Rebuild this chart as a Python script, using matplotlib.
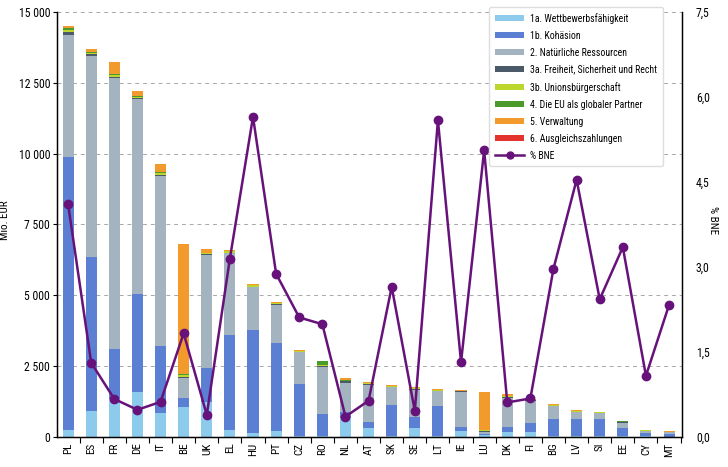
import matplotlib
matplotlib.use("Agg")
import matplotlib.pyplot as plt
from matplotlib.patches import Patch
from matplotlib.lines import Line2D
from matplotlib import font_manager
import numpy as np

avail = {f.name for f in font_manager.fontManager.ttflist}
fams = [f for f in ['Roboto Condensed', 'Liberation Sans Narrow', 'Roboto', 'DejaVu Sans'] if f in avail]
plt.rcParams['font.family'] = fams

countries = ["PL", "ES", "FR", "DE", "IT", "BE", "UK", "EL", "HU", "PT", "CZ", "RO", "NL",
             "AT", "SK", "SE", "LT", "IE", "LU", "DK", "FI", "BG", "LV", "SI", "EE", "CY", "MT"]

# Mio. EUR per heading
h1a = [250, 930, 1340, 1590, 860, 1070, 1240, 250, 150, 210, 50, 50, 670,
       320, 30, 330, 30, 210, 60, 190, 190, 40, 30, 50, 30, 20, 10]
h1b = [9630, 5430, 1760, 3460, 2350, 310, 1200, 3350, 3630, 3120, 1820, 760, 230,
       220, 1100, 390, 1070, 150, 60, 170, 300, 600, 590, 570, 300, 130, 100]
h2 = [4320, 7100, 9560, 6880, 6000, 710, 3980, 2890, 1510, 1330, 1130, 1670, 1000,
      1290, 630, 940, 520, 1230, 40, 1030, 790, 450, 270, 220, 180, 70, 60]
h3a = [100, 60, 50, 50, 50, 40, 30, 20, 20, 30, 10, 30, 60,
       30, 10, 40, 10, 20, 60, 20, 10, 10, 10, 10, 10, 5, 5]
h3b = [80, 40, 60, 30, 50, 50, 40, 40, 40, 30, 20, 40, 30,
       30, 30, 30, 30, 20, 10, 20, 10, 20, 20, 20, 20, 10, 10]
h4 = [40, 20, 30, 20, 30, 30, 20, 20, 10, 10, 10, 120, 10,
      10, 10, 10, 10, 10, 10, 10, 10, 10, 10, 10, 10, 5, 5]
h5 = [80, 100, 420, 170, 300, 4600, 110, 20, 30, 40, 20, 30, 80,
      30, 10, 40, 20, 30, 1340, 90, 20, 20, 20, 20, 10, 20, 20]
h6 = [0] * 27

# % BNE
bne = [4.11, 1.31, 0.67, 0.48, 0.62, 1.83, 0.39, 3.15, 5.65, 2.88, 2.11, 1.99, 0.36,
       0.64, 2.65, 0.46, 5.59, 1.32, 5.06, 0.61, 0.68, 2.97, 4.54, 2.43, 3.35, 1.08, 2.33]

labels = ["1a. Wettbewerbsfähigkeit", "1b. Kohäsion", "2. Natürliche Ressourcen",
          "3a. Freiheit, Sicherheit und Recht", "3b. Unionsbürgerschaft",
          "4. Die EU als globaler Partner", "5. Verwaltung", "6. Ausgleichszahlungen"]
colors = ["#8ccbec", "#5b7fd3", "#a3b3bf", "#4b5a69", "#bcd62c", "#4a9a2c", "#f39a2c", "#e2342a"]
series = [h1a, h1b, h2, h3a, h3b, h4, h5, h6]

yticks = [0, 2500, 5000, 7500, 10000, 12500, 15000]
ytick_labels = ["0", "2 500", "5 000", "7 500", "10 000", "12 500", "15 000"]
y2ticks = [0, 1.5, 3.0, 4.5, 6.0, 7.5]
y2tick_labels = ["0,0", "1,5", "3,0", "4,5", "6,0", "7,5"]

fig = plt.figure(figsize=(7.28, 4.67), dpi=100)
ax = fig.add_axes([57/728, 30/467, (682-57)/728, (437-12)/467])
x = np.arange(len(countries))

for t in yticks[1:]:
    ax.axhline(t, color="#a8a8a8", lw=0.7, ls=(0, (4, 4)), zorder=0)

bottom = np.zeros(len(countries))
for vals, c in zip(series, colors):
    v = np.array(vals, dtype=float)
    ax.bar(x, v, width=0.48, bottom=bottom, color=c, edgecolor="none", zorder=2)
    bottom += v

ax.set_xlim(-0.48, 26.56)
ax.set_ylim(0, 15000)
ax.set_yticks(yticks)
ax.set_yticklabels(ytick_labels, fontsize=8.5)
ax.set_xticks(x)
ax.set_xticklabels(countries, rotation=90, fontsize=8)
ax.tick_params(axis='x', length=0, pad=4)
ax.set_xticks(np.arange(-0.5, 26.6, 1.0)[1:], minor=True)
ax.tick_params(axis='x', which='minor', length=4, direction='out', width=0.8)
ax.tick_params(axis='y', length=3, width=0.8, pad=2)
ax.spines["top"].set_visible(False)
ax.spines["left"].set_linewidth(1.0)
ax.spines["bottom"].set_linewidth(1.0)
ax.set_ylabel("Mio. EUR", fontsize=8)
ax.yaxis.set_label_coords(-0.075, 0.51)

ax2 = ax.twinx()
ax2.plot(x, bne, color="#66127a", lw=1.8, marker="o", ms=6, zorder=5)
ax2.set_ylim(0, 7.5)
ax2.set_yticks(y2ticks)
ax2.set_yticklabels(y2tick_labels, fontsize=8.5)
ax2.tick_params(axis='y', length=0, width=0.8, pad=10)
ax2.spines["top"].set_visible(False)
ax2.spines["right"].set_linewidth(1.0)
ax2.set_ylabel("% BNE", fontsize=8, rotation=270, labelpad=12)
ax2.yaxis.set_label_coords(1.058, 0.51)

handles = [Patch(facecolor=c, edgecolor="none") for c in colors]
handles.append(Line2D([0], [0], color="#66127a", lw=1.8, marker="o", ms=5))
leg = ax2.legend(handles, labels + ["% BNE"], loc="upper right",
                 bbox_to_anchor=(668/728, 1 - 2/467), bbox_transform=fig.transFigure,
                 fontsize=7, frameon=True, fancybox=True, framealpha=1,
                 edgecolor="#dddddd", handlelength=3.0, handleheight=0.6,
                 labelspacing=0.72, borderpad=0.6, handletextpad=0.6)
leg.set_zorder(10)

fig.savefig("out.png", dpi=100)
